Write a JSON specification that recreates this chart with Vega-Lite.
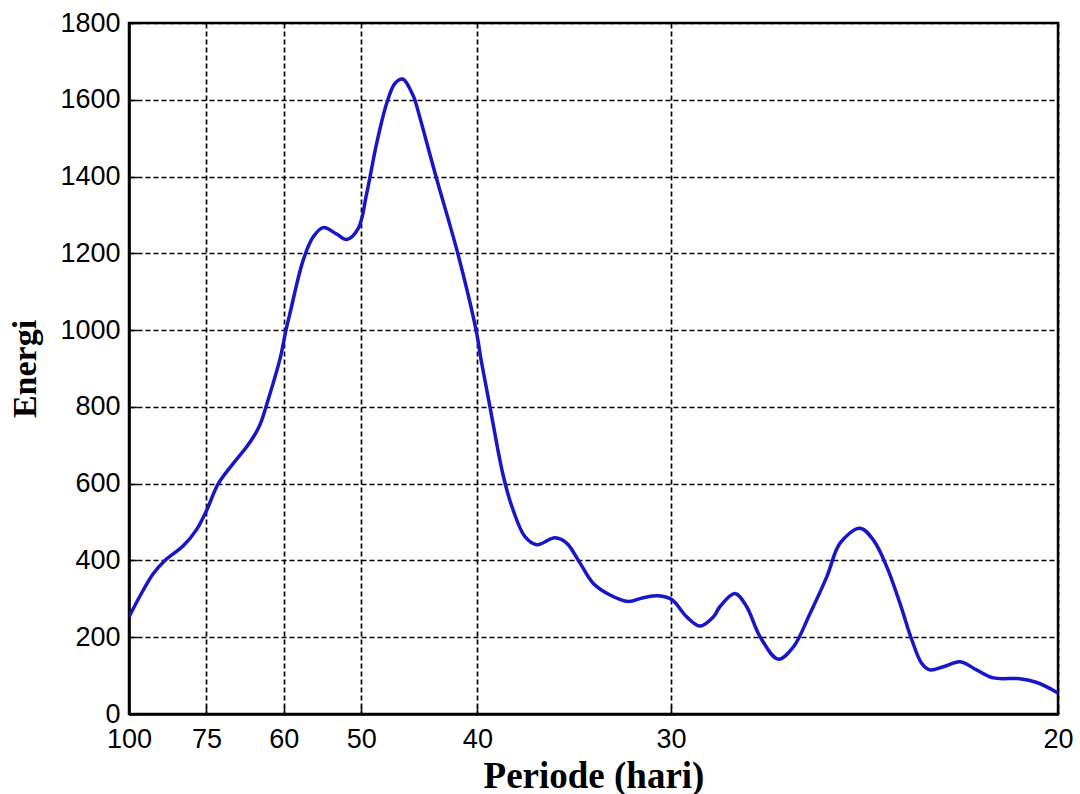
{
  "$schema": "https://vega.github.io/schema/vega-lite/v6.json",
  "autosize": "none",
  "width": 929,
  "height": 691,
  "padding": {"left": 129, "top": 23, "right": 22, "bottom": 80},
  "background": "white",
  "config": {
    "view": {"stroke": "black", "strokeWidth": 2.5},
    "axis": {
      "domainColor": "black",
      "domainWidth": 2.5,
      "tickColor": "black",
      "tickWidth": 1.5,
      "gridColor": "black",
      "gridDash": [5, 3],
      "gridWidth": 1.7,
      "gridOpacity": 1,
      "labelFont": "Liberation Sans",
      "labelFontSize": 27,
      "labelColor": "black",
      "titleFont": "Liberation Serif",
      "titleFontWeight": "bold",
      "titleColor": "black"
    }
  },
  "data": {
    "values": [
      {"P": 100, "E": 253},
      {"P": 94.2, "E": 323},
      {"P": 90.5, "E": 366},
      {"P": 86.6, "E": 400},
      {"P": 81.05, "E": 438},
      {"P": 77.43, "E": 481},
      {"P": 74.93, "E": 531},
      {"P": 72.23, "E": 600},
      {"P": 69.01, "E": 653},
      {"P": 66.37, "E": 696},
      {"P": 64.52, "E": 736},
      {"P": 63.64, "E": 765},
      {"P": 62.9, "E": 800},
      {"P": 60.6, "E": 925},
      {"P": 59.67, "E": 1000},
      {"P": 59.06, "E": 1044},
      {"P": 57.13, "E": 1183},
      {"P": 55.76, "E": 1243},
      {"P": 54.45, "E": 1267},
      {"P": 52.79, "E": 1250},
      {"P": 51.62, "E": 1236},
      {"P": 50.32, "E": 1265},
      {"P": 49.42, "E": 1356},
      {"P": 48.39, "E": 1487},
      {"P": 47.4, "E": 1591},
      {"P": 46.61, "E": 1643},
      {"P": 45.9, "E": 1654},
      {"P": 44.96, "E": 1610},
      {"P": 44.81, "E": 1598},
      {"P": 43.07, "E": 1400},
      {"P": 41.4, "E": 1200},
      {"P": 40.09, "E": 1000},
      {"P": 39.71, "E": 915},
      {"P": 39.15, "E": 800},
      {"P": 38.29, "E": 620},
      {"P": 37.67, "E": 530},
      {"P": 36.97, "E": 462},
      {"P": 36.29, "E": 441},
      {"P": 35.28, "E": 459},
      {"P": 34.67, "E": 445},
      {"P": 33.99, "E": 393},
      {"P": 33.34, "E": 340},
      {"P": 32.56, "E": 310},
      {"P": 31.75, "E": 293},
      {"P": 31.11, "E": 303},
      {"P": 30.5, "E": 308},
      {"P": 29.97, "E": 298},
      {"P": 29.4, "E": 253},
      {"P": 28.91, "E": 229},
      {"P": 28.44, "E": 253},
      {"P": 28.21, "E": 280},
      {"P": 27.71, "E": 314},
      {"P": 27.33, "E": 280},
      {"P": 26.9, "E": 201},
      {"P": 26.35, "E": 143},
      {"P": 25.9, "E": 175},
      {"P": 25.43, "E": 262},
      {"P": 24.97, "E": 358},
      {"P": 24.62, "E": 445},
      {"P": 24.11, "E": 484},
      {"P": 23.78, "E": 453},
      {"P": 23.46, "E": 384},
      {"P": 23.15, "E": 288},
      {"P": 22.88, "E": 193},
      {"P": 22.66, "E": 132},
      {"P": 22.48, "E": 115},
      {"P": 22.19, "E": 123},
      {"P": 21.84, "E": 136},
      {"P": 21.51, "E": 115},
      {"P": 21.18, "E": 94},
      {"P": 20.68, "E": 92},
      {"P": 20.37, "E": 82},
      {"P": 20, "E": 55}
    ]
  },
  "mark": {"type": "line", "color": "#1717C8", "strokeWidth": 3.5, "interpolate": "catmull-rom", "clip": true},
  "encoding": {
    "x": {
      "field": "P",
      "type": "quantitative",
      "scale": {"type": "pow", "exponent": -1, "domain": [100, 20], "zero": false, "nice": false},
      "axis": {
        "values": [100, 75, 60, 50, 40, 30, 20],
        "format": "d",
        "tickSize": -8,
        "labelPadding": 20,
        "labelFlush": false,
        "labelOverlap": false,
        "labelBound": false,
        "title": "Periode (hari)",
        "titleFontSize": 37,
        "titleX": 464.5,
        "titleY": 73,
        "titleAlign": "center",
        "titleBaseline": "alphabetic"
      }
    },
    "y": {
      "field": "E",
      "type": "quantitative",
      "scale": {"domain": [0, 1800], "zero": false, "nice": false},
      "axis": {
        "values": [0, 200, 400, 600, 800, 1000, 1200, 1400, 1600, 1800],
        "format": "d",
        "tickSize": -8,
        "labelPadding": 17,
        "labelFlush": false,
        "labelOverlap": false,
        "labelBound": false,
        "title": "Energi",
        "titleFontSize": 34,
        "titleAngle": -90,
        "titleX": -94,
        "titleY": 345.5,
        "titleAlign": "center",
        "titleBaseline": "alphabetic"
      }
    },
    "order": {"field": "P", "sort": "descending"}
  }
}
